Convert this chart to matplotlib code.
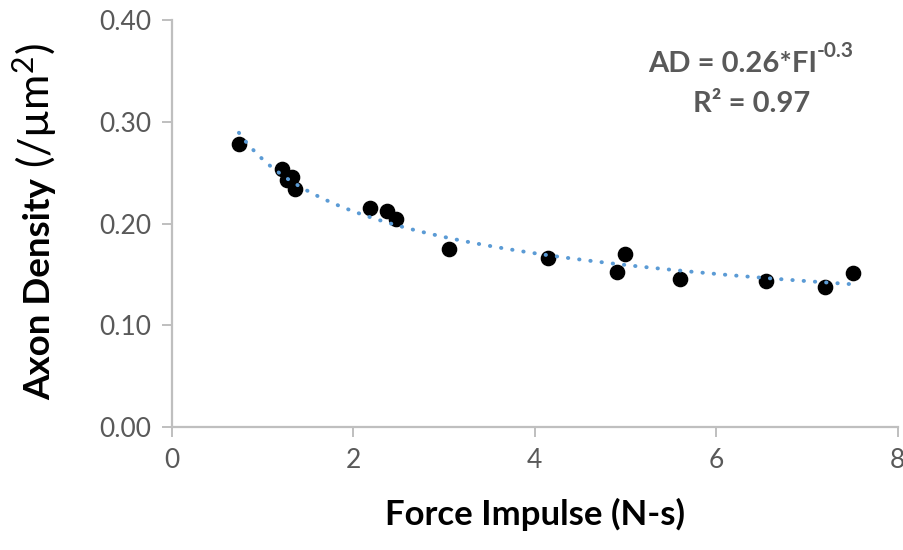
import numpy as np
import matplotlib
matplotlib.use("Agg")
import matplotlib.pyplot as plt

# force impulse (N-s) and axon density (/um^2)
force_impulse = [0.74, 1.21, 1.32, 1.27, 1.36, 2.18, 2.37, 2.47, 3.06,
                 4.15, 5.00, 4.91, 5.60, 6.55, 7.20, 7.51]
axon_density = [0.278, 0.254, 0.246, 0.243, 0.234, 0.215, 0.212, 0.204, 0.175,
                0.166, 0.170, 0.152, 0.145, 0.1435, 0.138, 0.151]
x_ticks = [0, 2, 4, 6, 8]
y_ticks = [0.0, 0.1, 0.2, 0.3, 0.4]

FONT = "Lato"
GRAY_TEXT = "#595959"
AXIS_GRAY = "#BFBFBF"
TREND_BLUE = "#5B9BD5"

plt.rcParams["font.family"] = [FONT, "DejaVu Sans"]
plt.rcParams["mathtext.fontset"] = "custom"
plt.rcParams["mathtext.rm"] = FONT
plt.rcParams["mathtext.it"] = FONT
plt.rcParams["mathtext.bf"] = FONT + ":bold"

fig = plt.figure(figsize=(9.04, 5.5), dpi=100)
ax = fig.add_axes([0.190, 0.2236, 0.803, 0.740])

x = np.array(force_impulse)
y = np.array(axon_density)

# power trendline, fit the way a spreadsheet does (log-log least squares)
b, log_a = np.polyfit(np.log(x), np.log(y), 1)
xs = np.linspace(x.min(), x.max(), 200)
ax.plot(xs, np.exp(log_a) * xs ** b, color=TREND_BLUE, linewidth=2.8,
        linestyle=(0, (0.1, 2.8)), dash_capstyle="round", zorder=3)

ax.scatter(x, y, s=105, color="black", edgecolors="black", zorder=2)

ax.set_xlim(0, 8)
ax.set_ylim(0, 0.40)
ax.set_xticks(x_ticks)
ax.set_yticks(y_ticks)
ax.set_yticklabels([f"{v:.2f}" for v in y_ticks])

for side in ("top", "right"):
    ax.spines[side].set_visible(False)
for side in ("left", "bottom"):
    ax.spines[side].set_color(AXIS_GRAY)
    ax.spines[side].set_linewidth(1.6)

ax.tick_params(axis="both", colors=AXIS_GRAY, length=7, width=1.4,
               labelsize=19, labelcolor=GRAY_TEXT, pad=8)

ax.set_xlabel("Force Impulse (N-s)", fontsize=25, fontweight="bold",
              labelpad=18)

# y label: bold name, regular-weight unit
fig.text(50 / 904, 1 - 400 / 550, "Axon Density", rotation=90,
         rotation_mode="anchor", ha="left", va="baseline",
         fontsize=26.5, fontweight="bold", color="black")
fig.text(50 / 904, 1 - 168 / 550, r"(/µm$^{2}$)", rotation=90,
         rotation_mode="anchor", ha="left", va="baseline",
         fontsize=31, color="black")

# fit equation
eq = ax.text(5.245, 0.349, "AD = 0.26*FI", ha="left", va="baseline",
             fontsize=21, fontweight="bold", color=GRAY_TEXT)
ax.annotate("-0.3", xy=(1.0, 0.62), xycoords=eq, ha="left", va="bottom",
            fontsize=15, fontweight="bold", color=GRAY_TEXT)
ax.text(6.39, 0.3096, "R² = 0.97", ha="center", va="baseline",
        fontsize=21, fontweight="bold", color=GRAY_TEXT)

fig.savefig("out.png", dpi=100)
plt.close(fig)
